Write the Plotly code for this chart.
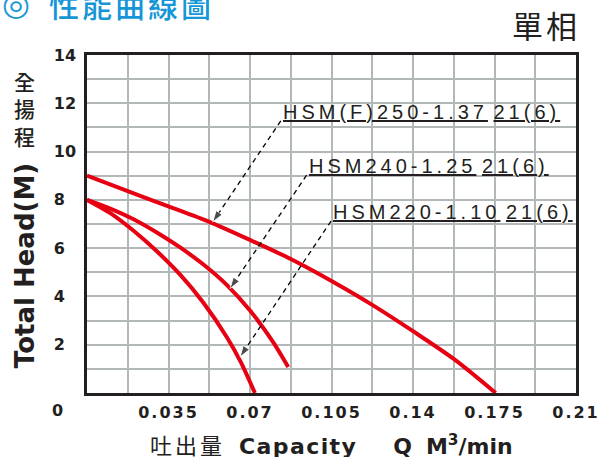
import plotly.graph_objects as go

# ---------------- data ----------------
q_hsm250 = [0, 0.0175, 0.035, 0.0525, 0.07, 0.0875, 0.105, 0.1225, 0.14, 0.1575, 0.1755]
h_hsm250 = [9.0, 8.36, 7.73, 7.09, 6.34, 5.55, 4.64, 3.65, 2.56, 1.41, 0.0]

q_hsm240 = [0, 0.01, 0.02, 0.03, 0.04, 0.05, 0.06, 0.07, 0.08, 0.0864]
h_hsm240 = [8.0, 7.64, 7.20, 6.65, 6.03, 5.32, 4.48, 3.42, 2.10, 1.08]

q_hsm220 = [0, 0.01, 0.02, 0.03, 0.04, 0.05, 0.06, 0.066, 0.0721]
h_hsm220 = [8.0, 7.45, 6.72, 5.87, 4.90, 3.74, 2.32, 1.29, 0.0]

model_names = ["HSM(F)250-1.37", "HSM240-1.25", "HSM220-1.10"]
model_codes = ["21(6)", "21(6)", "21(6)"]
label_q = [0.0832, 0.0943, 0.1048]
label_h = [11.27, 9.02, 7.12]
pointer_q = [0.054, 0.0614, 0.0657]
pointer_h = [7.08, 4.32, 1.49]

x_tickvals = [0.035, 0.07, 0.105, 0.14, 0.175, 0.21]
x_ticktext = ["0.035", "0.07", "0.105", "0.14", "0.175", "0.21"]
y_tickvals = [2, 4, 6, 8, 10, 12, 14]
y_ticktext = ["2", "4", "6", "8", "10", "12", "14"]

RED = "#e60012"
DARK = "#231f20"
GRID = "#b2b7b7"
BLUE = "#1596d6"

fig = go.Figure()

for q, h in [(q_hsm250, h_hsm250), (q_hsm240, h_hsm240), (q_hsm220, h_hsm220)]:
    fig.add_trace(go.Scatter(x=q, y=h, mode="lines",
                             line=dict(color=RED, width=4, shape="spline", smoothing=0.8),
                             showlegend=False, hoverinfo="skip"))

# leader lines with arrow heads
for i in range(len(model_names)):
    fig.add_trace(go.Scatter(
        x=[label_q[i], pointer_q[i]], y=[label_h[i], pointer_h[i]],
        mode="lines+markers",
        line=dict(color="black", width=1.3, dash="5px,4px"),
        marker=dict(symbol="arrow", size=[0, 12], angleref="previous", color="black"),
        showlegend=False, hoverinfo="skip"))

annotations = []
for i in range(len(model_names)):
    txt = ('<span style="letter-spacing:4px;text-decoration:underline">%s</span> '
           '<span style="letter-spacing:4px;text-decoration:underline">%s</span>'
           % (model_names[i], model_codes[i]))
    annotations.append(dict(x=label_q[i], y=label_h[i], xref="x", yref="y",
                            xanchor="left", yanchor="bottom", yshift=-4, showarrow=False,
                            text=txt, font=dict(family="Liberation Sans", size=20, color=DARK)))

# title and corner texts
annotations.append(dict(xref="paper", yref="paper", x=-0.178, y=1.15, xanchor="left", yanchor="middle",
                        showarrow=False, text="◎",
                        font=dict(family="DejaVu Sans", size=32, color=BLUE, weight="bold")))
annotations.append(dict(xref="paper", yref="paper", x=-0.082, y=1.15, xanchor="left", yanchor="middle",
                        showarrow=False,
                        text='<span style="letter-spacing:3px">性能曲線圖</span>',
                        font=dict(family="Noto Sans CJK TC", size=30, color=BLUE, weight=500)))
annotations.append(dict(xref="paper", yref="paper", x=1.012, y=1.09, xanchor="right", yanchor="middle",
                        showarrow=False,
                        text='<span style="letter-spacing:3px">單相</span>',
                        font=dict(family="Noto Sans CJK TC", size=31, color=DARK)))
annotations.append(dict(xref="paper", yref="paper", x=-0.127, y=0.842, xanchor="center", yanchor="middle",
                        showarrow=False, text="全<br>揚<br>程",
                        font=dict(family="Noto Sans CJK TC", size=21, color=DARK, weight=500)))
annotations.append(dict(xref="paper", yref="paper", x=-0.127, y=0.378, xanchor="center", yanchor="middle",
                        showarrow=False, textangle=-90, text="Total Head(M)",
                        font=dict(family="DejaVu Sans", size=26, color=DARK, weight="bold")))
annotations.append(dict(xref="paper", yref="paper", x=-0.0756, y=-0.053, xanchor="left", yanchor="middle",
                        showarrow=False, text="0",
                        font=dict(family="DejaVu Sans", size=16, color=DARK, weight="bold")))
annotations.append(dict(xref="paper", yref="paper", x=0.5, y=-0.154, xanchor="center", yanchor="middle",
                        showarrow=False,
                        text=('<span style="letter-spacing:3px">吐出量</span>\u00a0\u00a0'
                              '<span style="font-weight:bold;letter-spacing:1.4px">Capacity</span>'
                              '\u2003\u00a0\u00a0<b>Q</b>\u00a0\u00a0<b>M<sup>3</sup>/min</b>'),
                        font=dict(family="DejaVu Sans, Noto Sans CJK TC", size=22, color=DARK)))

fig.update_layout(
    width=600, height=457,
    margin=dict(l=87, r=24, t=55, b=64, autoexpand=False),
    plot_bgcolor="white", paper_bgcolor="white",
    annotations=annotations,
    xaxis=dict(range=[0, 0.21], tickmode="array", tickvals=x_tickvals,
               ticktext=['<span style="letter-spacing:2px">%s</span>' % t for t in x_ticktext],
               ticks="", ticklabelstandoff=3, automargin=False,
               tickfont=dict(family="DejaVu Sans", size=16, color=DARK, weight="bold"),
               showgrid=True, gridcolor=GRID, gridwidth=1.5,
               minor=dict(dtick=0.0175, tick0=0, showgrid=True, gridcolor=GRID, gridwidth=1.5),
               showline=True, mirror=True, linecolor=DARK, linewidth=2.5, zeroline=False),
    yaxis=dict(range=[0, 14], tickmode="array", tickvals=y_tickvals,
               ticktext=[t + "\u2007" if len(t) == 1 else t for t in y_ticktext],
               ticks="", ticklabelstandoff=5, automargin=False,
               tickfont=dict(family="DejaVu Sans", size=16, color=DARK, weight="bold"),
               showgrid=True, gridcolor=GRID, gridwidth=1.5,
               minor=dict(dtick=1, tick0=0, showgrid=True, gridcolor=GRID, gridwidth=1.5),
               showline=True, mirror=True, linecolor=DARK, linewidth=2.5, zeroline=False),
)

# remove the browser's default 8px body margin so the figure fills the window
fig.write_html("out.html", config={"displayModeBar": False},
               post_script="document.body.style.margin='0px';")
